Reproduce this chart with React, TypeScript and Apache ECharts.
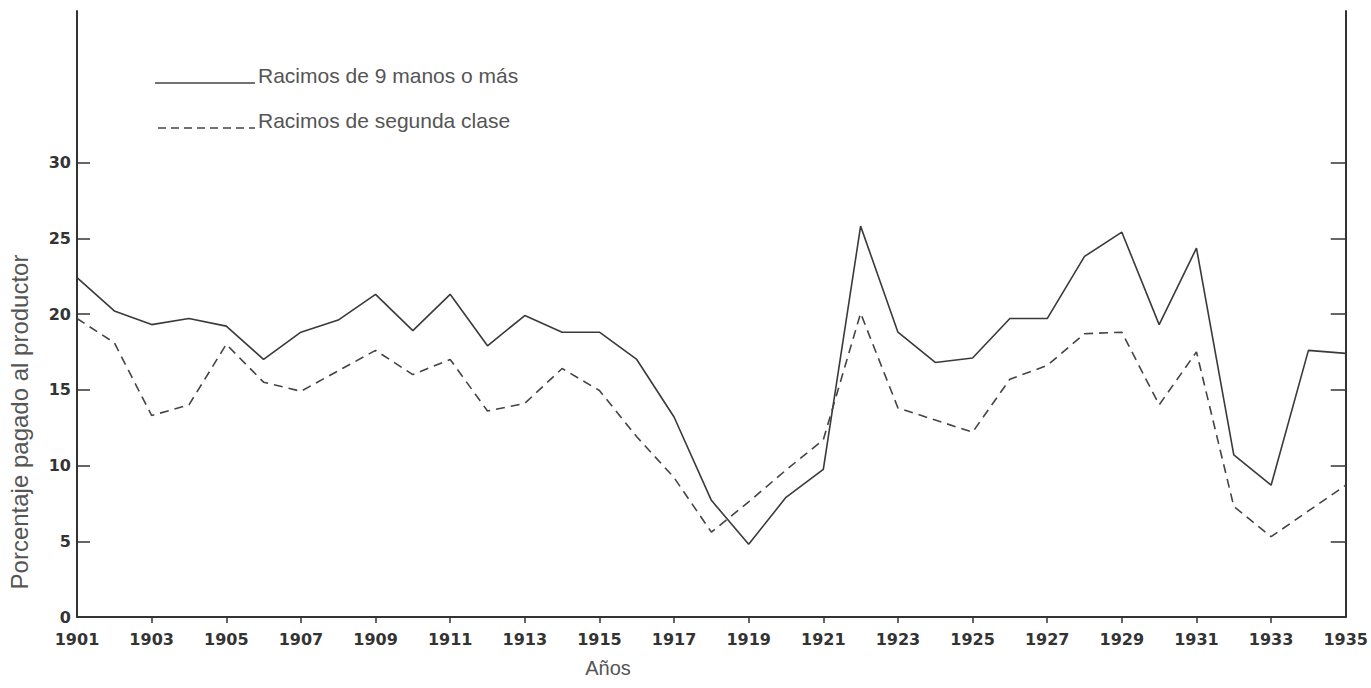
import React, { useEffect, useRef } from "react";
import * as echarts from "echarts";

const years: string[] = [
  "1901","1902","1903","1904","1905","1906","1907","1908","1909","1910",
  "1911","1912","1913","1914","1915","1916","1917","1918","1919","1920",
  "1921","1922","1923","1924","1925","1926","1927","1928","1929","1930",
  "1931","1932","1933","1934","1935",
];

const racimos9: number[] = [
  22.4, 20.2, 19.3, 19.7, 19.2, 17.0, 18.8, 19.6, 21.3, 18.9,
  21.3, 17.9, 19.9, 18.8, 18.8, 17.0, 13.2, 7.7, 4.8, 7.9,
  9.75, 25.8, 18.8, 16.8, 17.1, 19.7, 19.7, 23.8, 25.4, 19.3,
  24.35, 10.7, 8.7, 17.6, 17.4,
];

const racimosSegunda: number[] = [
  19.7, 18.1, 13.3, 14.0, 18.0, 15.5, 14.9, 16.25, 17.6, 16.0,
  17.0, 13.6, 14.1, 16.4, 14.95, 11.9, 9.2, 5.6, 7.6, 9.7,
  11.7, 20.05, 13.8, 13.0, 12.2, 15.7, 16.6, 18.7, 18.8, 14.0,
  17.5, 7.3, 5.3, 7.0, 8.7,
];

const yLabelValues: number[] = [0, 5, 10, 15, 20, 25, 30];
const yTickValues: number[] = [5, 10, 15, 20, 25, 30];

const seriesNames = ["Racimos de 9 manos o más", "Racimos de segunda clase"];
const xAxisTitle = "Años";
const yAxisTitle = "Porcentaje pagado al productor";

export default function App() {
  const ref = useRef<HTMLDivElement>(null);

  useEffect(() => {
    if (!ref.current) return;
    const chart = echarts.init(ref.current, null, { renderer: "svg" });
    const axisColor = "#333";
    const option: any = {
      animation: false,
      backgroundColor: "#ffffff",
      grid: { left: 77, right: 18, top: 11, bottom: 71, containLabel: false },
      xAxis: {
        type: "category",
        data: years,
        boundaryGap: false,
        axisLine: { show: true, lineStyle: { color: axisColor, width: 2 } },
        axisTick: {
          show: true,
          inside: false,
          length: 6,
          interval: (idx: number) => idx % 2 === 0 && idx > 0 && idx < years.length - 1,
          lineStyle: { color: axisColor, width: 1.5 },
        },
        axisLabel: {
          interval: 1,
          margin: 14,
          fontFamily: "DejaVu Sans",
          fontWeight: "bold",
          fontSize: 16,
          color: "#333",
        },
        splitLine: { show: false },
      },
      yAxis: [
        {
          type: "value",
          min: 0,
          max: 40,
          interval: 5,
          position: "left",
          axisLine: { show: true, lineStyle: { color: axisColor, width: 2 } },
          axisTick: {
            show: true,
            inside: true,
            length: 13,
            customValues: yTickValues,
            lineStyle: { color: axisColor, width: 1.5 },
          },
          axisLabel: {
            customValues: yLabelValues,
            margin: 6,
            fontFamily: "DejaVu Sans",
            fontWeight: "bold",
            fontSize: 16,
            color: "#333",
          },
          splitLine: { show: false },
        },
        {
          type: "value",
          min: 0,
          max: 40,
          interval: 5,
          position: "right",
          axisLine: { show: true, lineStyle: { color: axisColor, width: 2 } },
          axisTick: {
            show: true,
            inside: true,
            length: 15,
            customValues: yTickValues,
            lineStyle: { color: axisColor, width: 1.5 },
          },
          axisLabel: { show: false },
          splitLine: { show: false },
        },
      ],
      graphic: [
        { type: "line", shape: { x1: 155, y1: 83, x2: 255, y2: 83 }, style: { stroke: "#444", lineWidth: 1.5 } },
        { type: "text", x: 258, y: 75, style: { text: seriesNames[0], font: "21px 'Liberation Sans'", fill: "#555", textVerticalAlign: "middle" } },
        { type: "line", shape: { x1: 158, y1: 128, x2: 255, y2: 128 }, style: { stroke: "#444", lineWidth: 1.5, lineDash: [8, 5] } },
        { type: "text", x: 258, y: 120, style: { text: seriesNames[1], font: "21px 'Liberation Sans'", fill: "#555", textVerticalAlign: "middle" } },
        { type: "text", x: 608, y: 668, style: { text: xAxisTitle, font: "20px 'Liberation Sans'", fill: "#555", textAlign: "center", textVerticalAlign: "middle" } },
        { type: "text", x: 19, y: 422, rotation: Math.PI / 2, style: { text: yAxisTitle, font: "24px 'Liberation Sans'", fill: "#555", textAlign: "center", textVerticalAlign: "middle" } },
      ],
      series: [
        {
          name: seriesNames[0],
          type: "line",
          data: racimos9,
          symbol: "none",
          lineStyle: { color: "#3a3a3a", width: 1.6, type: "solid" },
        },
        {
          name: seriesNames[1],
          type: "line",
          data: racimosSegunda,
          symbol: "none",
          lineStyle: { color: "#444", width: 1.6, type: [9, 6] },
        },
      ],
    };
    chart.setOption(option);
    return () => chart.dispose();
  }, []);

  return (
    <div
      ref={ref}
      style={{ position: "fixed", left: 0, top: 0, width: 1371, height: 688 }}
    />
  );
}
